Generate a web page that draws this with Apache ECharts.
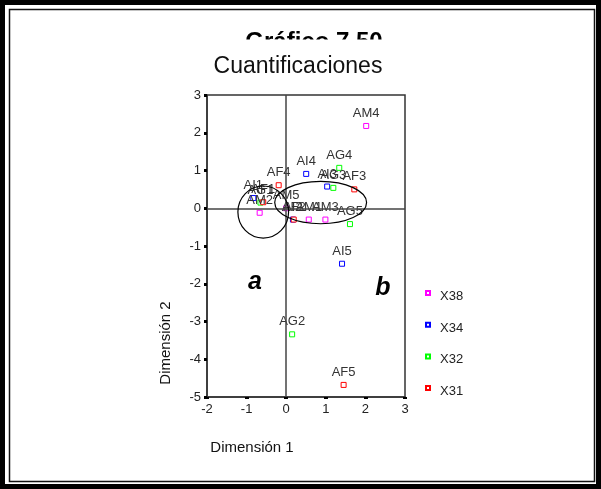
<!DOCTYPE html>
<html>
<head>
<meta charset="utf-8">
<script src="https://cdn.jsdelivr.net/npm/echarts@6/dist/echarts.min.js"></script>
<style>
  html, body { margin: 0; padding: 0; background: #fff; }
  #chart { width: 601px; height: 489px; }
</style>
</head>
<body>
<div id="chart"></div>
<script>
// category quantifications: [dim1, dim2, label]
var x38 = [[0.57, -0.30, 'AM1'], [-0.67, -0.12, 'AM2'], [0.99, -0.30, 'AM3'], [2.02, 2.18, 'AM4'], [0.00, 0.00, 'AM5']]
var x34 = [[-0.83, 0.27, 'AI1'], [0.17, -0.30, 'AI2'], [1.035, 0.575, 'AI3'], [0.505, 0.91, 'AI4'], [1.41, -1.47, 'AI5']]
var x32 = [[-0.65, 0.15, 'AG1'], [0.15, -3.34, 'AG2'], [1.19, 0.54, 'AG3'], [1.34, 1.07, 'AG4'], [1.61, -0.42, 'AG5']]
var x31 = [[-0.58, 0.16, 'AF1'], [0.19, -0.30, 'AF2'], [1.72, 0.50, 'AF3'], [-0.19, 0.61, 'AF4'], [1.45, -4.68, 'AF5']]

var seriesNames = ['X38', 'X34', 'X32', 'X31']
var seriesColors = ['#ff00ff', '#0000ff', '#00ff00', '#ff0000']
var seriesData = [x38, x34, x32, x31]

var xTicks = [-2, -1, 0, 1, 2, 3]
var yTicks = [-5, -4, -3, -2, -1, 0, 1, 2, 3]

// the two hand drawn ellipses, in data units: [cx, cy, rx, ry]
var ellipseA = [-0.58, -0.10, 0.64, 0.69]
var ellipseB = [0.87, 0.15, 1.16, 0.56]

var FONT = '"Liberation Sans", Arial, sans-serif'

var chart = echarts.init(document.getElementById('chart'), null, {renderer: 'canvas'})

var series = seriesNames.map(function (name, i) {
    return {
        name: name,
        type: 'scatter',
        symbol: 'rect',
        symbolSize: 5,
        data: seriesData[i],
        itemStyle: {color: '#fff', borderColor: seriesColors[i], borderWidth: 1, opacity: 1},
        label: {
            show: true,
            position: 'top',
            distance: 3,
            formatter: function (p) { return p.data[2] },
            color: '#333',
            fontSize: 13,
            fontFamily: FONT
        },
        emphasis: {disabled: true},
        z: 3
    }
})

// the zero lines through the origin
series[0].markLine = {
    silent: true,
    symbol: 'none',
    label: {show: false},
    lineStyle: {color: '#444', width: 1.5, type: 'solid'},
    data: [{xAxis: 0}, {yAxis: 0}],
    animation: false
}

chart.setOption({
    animation: false,
    backgroundColor: '#fff',
    textStyle: {fontFamily: FONT},
    grid: {
        left: 207, right: 196, top: 95, bottom: 92,
        show: true, borderColor: '#333', borderWidth: 1.5, backgroundColor: 'transparent'
    },
    xAxis: {
        type: 'value',
        min: xTicks[0], max: xTicks[xTicks.length - 1], interval: 1,
        axisLine: {show: true, onZero: false, lineStyle: {color: '#333', width: 1.5}},
        axisTick: {show: true, length: 2, lineStyle: {color: '#000', width: 4}},
        axisLabel: {color: '#222', fontSize: 13, fontFamily: FONT, margin: 6},
        splitLine: {show: false}
    },
    yAxis: {
        type: 'value',
        min: yTicks[0], max: yTicks[yTicks.length - 1], interval: 1,
        axisLine: {show: true, onZero: false, lineStyle: {color: '#333', width: 1.5}},
        axisTick: {show: true, length: 3, lineStyle: {color: '#000', width: 3}},
        axisLabel: {color: '#222', fontSize: 13, fontFamily: FONT, margin: 6},
        splitLine: {show: false}
    },
    legend: {
        orient: 'vertical',
        left: 420, top: 278,
        data: ['X38', 'X34', 'X32', 'X31'],
        itemWidth: 4, itemHeight: 4, itemGap: 11.7,
        formatter: function (name) { return '{t|' + name + '}' },
        textStyle: {
            color: '#222', fontSize: 13, fontFamily: FONT,
            rich: {t: {color: '#222', fontSize: 13, fontFamily: FONT, lineHeight: 14, padding: [7, 0, 0, 5]}}
        },
        selectedMode: false
    },
    series: series
})

function ellipseShape(e) {
    var c = chart.convertToPixel({gridIndex: 0}, [e[0], e[1]])
    var r = chart.convertToPixel({gridIndex: 0}, [e[0] + e[2], e[1] + e[3]])
    return {cx: c[0], cy: c[1], rx: Math.abs(r[0] - c[0]), ry: Math.abs(c[1] - r[1])}
}

chart.setOption({
    graphic: [
        // double frame round the page
        {type: 'rect', shape: {x: 2.5, y: 2.5, width: 596, height: 484}, style: {fill: 'none', stroke: '#000', lineWidth: 5}, silent: true},
        {type: 'rect', shape: {x: 9.5, y: 9.5, width: 585, height: 472}, style: {fill: 'none', stroke: '#111', lineWidth: 1.5}, silent: true},
        // chart number, cut off above the title
        {type: 'text', x: 314, y: 42, style: {text: 'Gráfico 7.50', font: 'bold 24px ' + FONT, fill: '#000', align: 'center', verticalAlign: 'middle'}, silent: true, z: 10},
        {type: 'rect', shape: {x: 150, y: 39.5, width: 300, height: 14}, style: {fill: '#fff'}, silent: true, z: 11},
        {type: 'text', x: 298, y: 67, style: {text: 'Cuantificaciones', font: '23px ' + FONT, fill: '#111', align: 'center', verticalAlign: 'middle'}, silent: true},
        {type: 'text', x: 252, y: 448, style: {text: 'Dimensión 1', font: '15px ' + FONT, fill: '#111', align: 'center', verticalAlign: 'middle'}, silent: true},
        {type: 'text', x: 166, y: 343, rotation: Math.PI / 2, style: {text: 'Dimensión 2', font: '15px ' + FONT, fill: '#111', align: 'center', verticalAlign: 'middle'}, silent: true},
        {type: 'text', x: 255, y: 282, style: {text: 'a', font: 'italic bold 25px ' + FONT, fill: '#000', align: 'center', verticalAlign: 'middle'}, silent: true},
        {type: 'text', x: 383, y: 288, style: {text: 'b', font: 'italic bold 25px ' + FONT, fill: '#000', align: 'center', verticalAlign: 'middle'}, silent: true},
        {type: 'ellipse', shape: ellipseShape(ellipseA), style: {fill: 'none', stroke: '#000', lineWidth: 1.2}, silent: true, z: 5},
        {type: 'ellipse', shape: ellipseShape(ellipseB), style: {fill: 'none', stroke: '#000', lineWidth: 1.2}, silent: true, z: 5}
    ]
})
</script>
</body>
</html>
